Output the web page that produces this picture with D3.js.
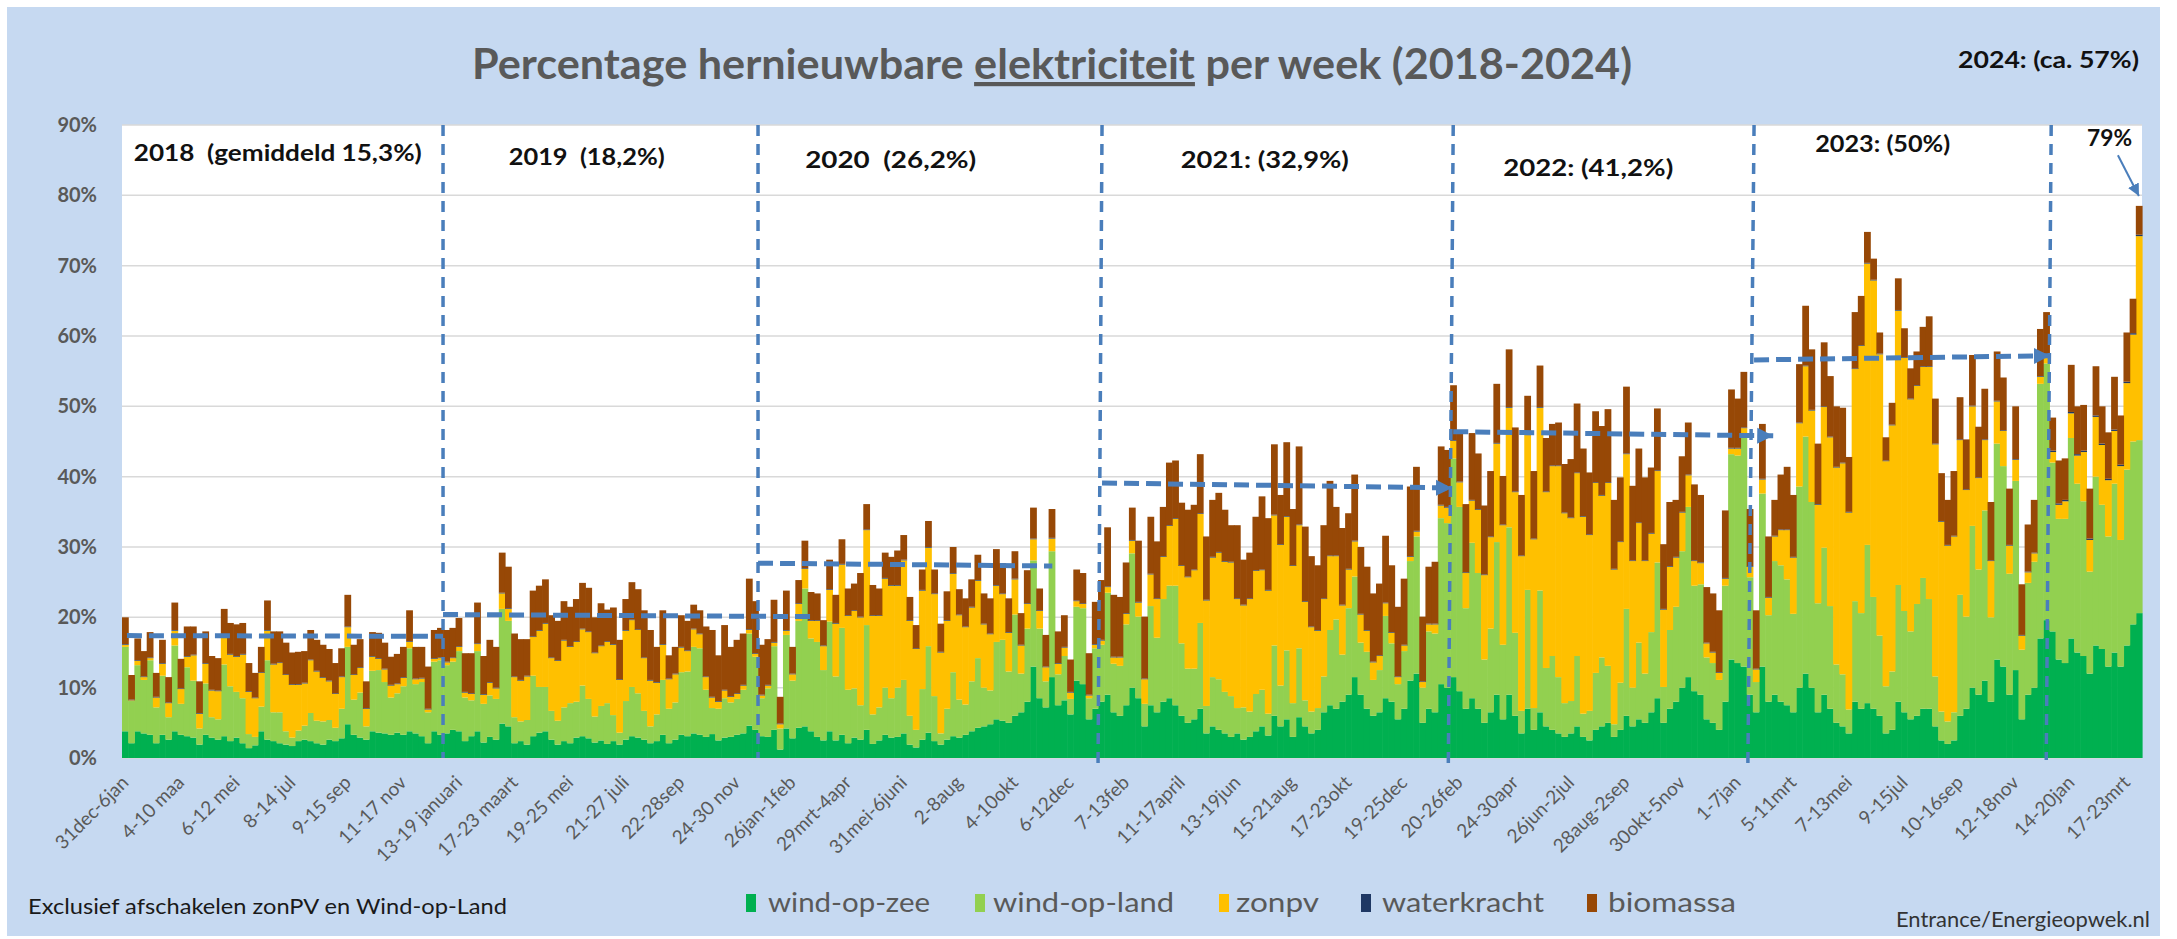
<!DOCTYPE html>
<html><head><meta charset="utf-8">
<script src="https://cdn.jsdelivr.net/npm/d3@7"></script>
<style>
html,body{margin:0;padding:0;background:#fff;}
svg{display:block;}
text{font-family:Lato,"Open Sans","Liberation Sans",sans-serif;}
</style></head><body>
<svg id="chart" width="2177" height="939"></svg>
<script>
// ---------------- DATA (percent of electricity per week) ----------------
// weeks run from 31dec2017-6jan2018 up to the end of March 2024
const windOpZee = [
// 2018
3.8,2.1,3.8,3.5,3.3,2.1,3.3,2.6,3.8,3.3,3.1,2.9,1.9,3.3,2.9,2.6,3.1,2.4,2.9,2.1,1.4,1.8,3.8,2.6,2.4,2.1,1.9,1.7,2.4,2.6,2.4,2.1,1.9,2.6,2.4,2.8,4.8,3.3,2.9,2.6,3.8,3.6,3.5,3.3,3.6,3.3,3.8,3.5,3.1,2.1,3.8,3.3,
// 2019
3.5,4.0,3.8,2.4,3.1,3.8,2.2,3.0,2.6,4.9,4.5,2.1,2.4,1.9,3.1,3.6,3.8,2.6,1.9,2.4,2.1,2.9,3.1,2.8,2.2,2.5,2.0,2.4,1.9,2.6,3.1,2.9,2.6,2.1,2.4,3.3,2.1,2.6,3.3,3.1,3.5,3.3,3.0,3.4,2.5,2.9,3.0,3.3,3.5,4.6,4.0,3.1,
// 2020
3.0,4.0,1.2,4.2,2.8,4.3,4.5,3.8,3.0,2.5,3.8,2.5,3.3,2.1,2.9,2.6,4.0,2.0,2.5,3.3,2.9,3.0,3.5,1.9,1.5,2.6,3.6,2.4,1.9,2.6,3.1,2.9,3.3,3.8,4.3,4.5,4.8,5.5,5.3,5.0,6.0,6.5,8.0,13.0,8.5,7.2,11.5,7.5,8.2,6.2,11.0,10.5,5.5,
// 2021
7.0,8.0,9.0,6.5,6.0,7.5,10.0,8.5,4.5,7.5,6.5,8.0,8.5,7.5,6.0,5.0,5.5,7.0,3.5,4.5,4.0,3.5,3.0,3.5,2.6,3.0,3.8,4.5,3.2,6.0,4.5,5.5,3.0,5.8,4.5,3.5,4.0,6.5,7.5,7.0,8.0,9.0,11.5,9.0,7.0,6.0,6.5,8.5,8.0,5.5,7.0,11.0,
// 2022
12.0,5.0,7.0,6.5,10.5,10.0,11.5,9.5,7.0,8.5,7.0,5.0,6.5,9.0,5.5,9.0,6.0,3.5,7.0,4.0,6.5,4.5,4.0,3.5,3.0,3.5,4.5,3.0,2.5,4.0,4.5,5.0,3.0,4.0,6.0,4.5,5.5,5.0,6.5,8.5,5.0,7.0,8.0,10.0,11.5,9.5,9.0,5.5,5.0,4.0,8.0,14.0,
// 2023
13.5,13.0,9.0,6.5,13.0,8.0,9.0,8.0,7.5,6.5,10.0,12.0,10.0,6.5,9.0,7.0,5.0,4.5,3.5,8.0,7.0,7.8,7.0,6.0,3.5,4.0,8.0,6.5,5.5,6.0,7.0,7.0,4.5,2.5,2.0,2.5,6.0,7.0,10.0,9.0,11.0,8.0,14.0,13.0,9.0,12.5,5.5,9.0,10.0,17.0,19.6,
// 2024
18.0,14.0,13.5,17.0,15.0,14.5,12.0,16.0,15.5,13.0,15.0,13.0,16.0,19.0,20.6
];
const windOpLand = [
12.0,6.0,9.4,7.6,10.6,5.1,8.4,3.2,12.2,4.4,9.8,8.1,2.3,7.3,2.9,2.9,10.2,7.8,6.5,6.4,2.0,1.2,3.5,11.3,4.1,4.4,1.9,1.2,1.5,2.0,4.0,3.2,3.3,2.8,1.9,4.2,11.0,5.0,6.4,1.9,8.6,8.9,7.3,5.3,5.6,6.9,11.8,7.0,7.7,4.4,9.9,10.6,
9.7,9.7,11.4,6.2,5.1,11.4,5.5,5.9,5.8,16.3,15.0,3.7,2.8,3.5,8.6,6.5,6.3,4.1,3.4,4.8,5.7,5.1,7.2,5.6,3.7,4.9,5.8,3.7,1.7,5.5,7.0,6.3,4.1,2.4,3.8,7.8,4.9,5.3,8.9,9.2,12.3,12.3,6.7,3.7,4.5,5.6,4.9,5.1,6.2,13.1,10.4,5.4,
6.9,11.9,3.0,13.3,8.2,15.2,19.6,13.2,13.5,10.0,15.6,9.1,15.2,7.6,7.0,4.9,14.9,4.2,4.7,6.7,5.6,7.0,7.6,4.1,2.5,7.2,12.3,6.4,1.6,4.4,9.1,5.4,4.3,7.1,9.9,5.5,4.8,11.0,11.5,7.3,14.4,5.5,10.4,15.1,9.9,3.7,17.9,4.4,6.3,2.2,10.5,10.8,3.0,
8.6,8.1,14.5,6.9,7.1,11.5,19.1,11.6,3.2,14.1,10.6,14.6,16.0,17.0,10.3,7.7,7.2,12.2,3.9,7.0,7.2,5.9,5.8,3.6,4.6,3.6,5.3,5.2,3.1,10.0,5.8,9.8,4.8,9.8,3.7,3.1,3.1,5.1,10.7,12.7,6.7,12.3,14.3,7.4,8.1,5.1,6.0,11.7,8.3,5.0,8.2,17.0,
19.5,5.0,11.0,11.2,23.6,23.4,31.1,26.2,14.3,22.1,19.3,9.0,11.9,21.7,10.6,23.8,11.8,3.2,16.9,3.1,17.3,8.3,10.5,8.0,4.8,4.6,10.0,3.3,4.2,8.1,9.8,8.1,1.8,6.7,15.2,5.5,10.9,7.0,11.4,19.3,5.1,11.2,13.5,19.4,24.2,15.0,15.7,8.8,8.5,7.1,16.5,29.2,
29.5,32.7,16.7,4.3,24.6,12.3,19.0,19.4,17.9,14.0,28.6,33.7,26.4,15.5,20.9,14.6,8.3,7.4,3.4,14.3,13.6,22.5,15.9,11.4,6.7,8.3,16.6,14.4,12.5,15.9,18.6,15.6,7.1,4.1,3.2,4.0,17.2,13.1,23.0,17.8,24.2,12.0,30.7,28.5,17.2,26.9,9.9,15.9,17.9,36.2,36.5,
24.0,20.0,20.5,28.5,24.0,22.0,14.5,24.0,20.5,18.5,24.0,18.0,25.0,26.0,24.6
];
const zonPV = [
0.3,0.1,0.6,0.4,0.3,1.4,1.7,2.0,2.1,2.1,1.5,3.6,2.1,2.8,3.8,4.0,3.9,4.5,5.0,6.2,6.0,5.5,4.8,4.2,6.8,7.0,8.0,7.5,6.5,6.0,7.5,7.0,6.2,5.5,4.8,4.5,2.8,3.5,3.5,2.5,2.0,1.6,1.8,1.7,1.3,1.2,0.9,0.7,0.5,0.4,0.4,0.3,
0.4,0.5,0.6,0.7,0.9,1.0,1.3,1.8,1.5,2.2,1.7,5.7,5.8,6.2,5.5,8.0,9.0,7.5,8.5,9.5,8.0,8.5,8.0,9.5,9.0,8.5,8.7,10.0,7.5,10.0,9.5,9.0,7.5,6.5,4.5,5.0,4.2,4.0,3.5,2.9,2.5,2.0,1.8,1.5,1.0,1.1,0.8,0.7,0.6,0.5,0.4,0.4,
0.4,0.5,0.6,0.6,0.9,2.4,2.8,2.5,3.0,3.4,4.5,7.5,9.0,10.5,11.0,12.5,13.5,14.0,13.0,15.5,16.0,14.5,17.0,13.5,11.5,14.0,14.0,14.5,11.5,12.5,14.0,12.0,11.0,10.5,11.0,9.0,8.0,8.0,6.5,5.5,5.0,4.0,3.5,3.0,2.5,2.0,1.8,1.5,1.2,0.9,0.8,0.6,0.4,
0.5,0.6,0.8,0.9,1.2,1.5,1.8,2.0,3.5,4.5,5.5,6.0,8.5,9.5,11.0,13.0,14.0,15.5,15.0,17.0,18.0,18.5,19.0,15.5,14.5,16.0,17.5,17.0,17.5,18.5,20.0,19.0,19.5,17.5,14.0,12.0,11.0,11.0,10.5,9.0,7.0,5.5,5.0,4.0,3.0,2.5,2.0,1.8,1.5,1.0,0.8,0.6,
0.7,0.8,1.0,1.3,1.8,2.2,2.5,3.5,5.0,6.0,9.0,12.0,13.0,14.0,17.0,17.0,20.0,22.0,22.0,24.0,26.0,25.0,27.0,30.0,27.0,26.0,26.0,28.0,25.0,27.0,23.0,26.0,22.0,20.0,22.0,18.0,17.0,16.0,14.0,13.0,11.0,9.0,7.0,5.5,4.5,3.5,3.0,2.0,1.5,1.0,1.0,0.8,
1.0,1.2,1.5,1.8,2.0,2.5,3.5,5.0,7.0,8.0,9.0,10.0,13.0,14.0,20.0,24.0,28.0,30.0,28.0,33.0,38.0,40.0,45.0,40.0,32.0,35.0,39.0,36.0,33.0,31.0,30.0,33.0,33.0,27.0,25.0,25.0,22.0,18.0,17.0,13.0,10.0,8.0,6.0,5.0,4.0,3.0,2.0,1.5,1.2,1.0,0.8,
1.5,2.0,2.5,3.5,4.0,7.0,4.5,8.5,8.5,8.0,7.5,10.5,12.3,15.2,29.0
];
const waterkracht = [
0.1,0.1,0.1,0.1,0.1,0.1,0.1,0.1,0.1,0.1,0.1,0.1,0.1,0.1,0.1,0.1,0.1,0.1,0.1,0.1,0.1,0.1,0.1,0.1,0.1,0.1,0.1,0.1,0.1,0.1,0.1,0.1,0.1,0.1,0.1,0.1,0.1,0.1,0.1,0.1,0.1,0.1,0.1,0.1,0.1,0.1,0.1,0.1,0.1,0.1,0.1,0.1,
0.1,0.1,0.1,0.1,0.1,0.1,0.1,0.1,0.1,0.1,0.1,0.1,0.1,0.1,0.1,0.1,0.1,0.1,0.1,0.1,0.1,0.1,0.1,0.1,0.1,0.1,0.1,0.1,0.1,0.1,0.1,0.1,0.1,0.1,0.1,0.1,0.1,0.1,0.1,0.1,0.1,0.1,0.1,0.1,0.1,0.1,0.1,0.1,0.1,0.1,0.1,0.1,
0.1,0.1,0.1,0.1,0.1,0.1,0.1,0.1,0.1,0.1,0.1,0.1,0.1,0.1,0.1,0.1,0.1,0.1,0.1,0.1,0.1,0.1,0.1,0.1,0.1,0.1,0.1,0.1,0.1,0.1,0.1,0.1,0.1,0.1,0.1,0.1,0.1,0.1,0.1,0.1,0.1,0.1,0.1,0.1,0.1,0.1,0.1,0.1,0.1,0.1,0.1,0.1,0.1,
0.1,0.1,0.1,0.1,0.1,0.1,0.1,0.1,0.1,0.1,0.1,0.1,0.1,0.1,0.1,0.1,0.1,0.1,0.1,0.1,0.1,0.1,0.1,0.1,0.1,0.1,0.1,0.1,0.1,0.1,0.1,0.1,0.1,0.1,0.1,0.1,0.1,0.1,0.1,0.1,0.1,0.1,0.1,0.1,0.1,0.1,0.1,0.1,0.1,0.1,0.1,0.1,
0.1,0.1,0.1,0.1,0.1,0.1,0.1,0.1,0.1,0.1,0.1,0.1,0.1,0.1,0.1,0.1,0.1,0.1,0.1,0.1,0.1,0.1,0.1,0.1,0.1,0.1,0.1,0.1,0.1,0.1,0.1,0.1,0.1,0.1,0.1,0.1,0.1,0.1,0.1,0.1,0.1,0.1,0.1,0.1,0.1,0.1,0.1,0.1,0.1,0.1,0.1,0.1,
0.1,0.1,0.1,0.1,0.1,0.1,0.1,0.1,0.1,0.1,0.1,0.1,0.1,0.1,0.1,0.1,0.1,0.1,0.1,0.1,0.1,0.1,0.1,0.1,0.1,0.1,0.1,0.1,0.1,0.1,0.1,0.1,0.1,0.1,0.1,0.1,0.1,0.1,0.1,0.1,0.1,0.1,0.1,0.1,0.1,0.1,0.1,0.1,0.1,0.1,0.1,
0.2,0.2,0.2,0.2,0.2,0.2,0.2,0.2,0.2,0.2,0.2,0.2,0.2,0.2,0.2
];
const biomassa = [
3.8,3.5,3.1,3.6,3.6,3.4,3.3,3.6,3.9,4.2,4.2,4.0,4.5,4.5,4.8,4.6,3.9,4.4,4.5,4.4,4.0,3.5,3.6,4.2,4.6,4.4,4.5,4.5,4.6,4.5,4.2,4.4,4.6,4.5,4.3,4.0,4.5,4.2,4.0,3.8,3.4,3.6,3.7,4.0,4.2,4.3,4.4,4.5,4.4,6.0,4.0,4.2,
4.5,4.2,4.0,5.5,5.7,5.8,5.4,6.0,5.8,5.7,5.9,6.1,5.8,5.2,6.5,6.3,6.2,6.0,5.6,5.5,5.6,6.0,6.5,6.2,5.0,6.0,4.5,5.2,5.6,4.4,5.3,5.7,6.7,7.1,5.0,4.8,3.3,3.8,4.5,4.2,3.4,3.3,7.1,9.5,6.5,9.2,7.0,7.6,7.3,7.2,7.4,7.1,
6.5,6.0,3.8,5.6,3.8,3.3,3.9,4.0,3.8,3.6,4.2,4.0,3.5,3.8,3.8,6.2,3.6,4.3,3.8,3.6,4.0,4.9,3.5,3.3,3.3,2.9,3.7,3.4,4.0,4.1,3.7,3.6,4.0,3.9,3.6,4.3,5.0,5.1,4.3,4.8,3.9,4.5,4.7,4.4,3.1,4.5,4.1,4.5,4.5,4.6,4.4,4.3,5.9,
6.0,8.5,8.4,8.8,8.5,7.2,4.6,8.7,8.8,8.1,8.1,7.0,8.9,8.2,8.9,9.5,9.2,8.4,9.0,8.1,8.4,7.3,5.2,10.4,6.4,6.5,7.6,10.4,10.2,10.0,7.0,10.5,8.0,11.1,10.6,10.0,9.2,10.4,10.6,6.9,10.9,7.9,9.4,9.5,9.0,9.7,10.2,9.5,9.5,9.9,9.4,9.9,
9.1,9.2,8.1,8.8,8.3,8.1,7.8,6.9,9.7,9.5,7.9,9.8,9.3,8.4,6.9,8.2,9.1,8.6,5.5,9.6,5.9,7.6,5.9,6.1,6.9,8.3,9.8,9.6,8.8,10.1,9.8,10.4,9.8,9.1,9.5,10.6,10.5,11.8,9.3,8.8,9.2,9.1,8.1,7.9,7.4,10.8,9.6,7.9,8.3,8.8,9.6,8.3,
7.0,7.9,8.1,8.3,7.8,8.6,5.1,7.8,8.9,8.8,8.3,8.5,8.6,8.6,9.1,8.6,8.6,7.8,7.8,8.0,7.0,4.4,3.0,3.0,3.3,3.1,4.5,4.1,4.3,4.8,5.6,7.1,6.4,6.8,6.4,9.2,6.0,7.1,7.2,7.2,7.2,8.3,7.0,7.5,8.0,7.5,7.2,6.7,7.5,6.7,6.4,
4.7,6.1,5.9,6.7,6.8,6.5,7.1,7.0,5.3,6.6,7.5,7.0,7.0,4.9,4.1
];
// x-axis labels, one every 9 weeks (starting with week 0)
const tickLabels = ["31dec-6jan","4-10 maa","6-12 mei","8-14 jul","9-15 sep","11-17 nov","13-19 januari","17-23 maart","19-25 mei","21-27 juli","22-28sep","24-30 nov","26jan-1feb","29mrt-4apr","31mei-6juni","2-8aug","4-10okt","6-12dec","7-13feb","11-17april","13-19jun","15-21aug","17-23okt","19-25dec","20-26feb","24-30apr","26jun-2jul","28aug-2sep","30okt-5nov","1-7jan","5-11mrt","7-13mei","9-15jul","10-16sep","12-18nov","14-20jan","17-23mrt"];
const tickEvery = 9;
const yTicks = [0,10,20,30,40,50,60,70,80,90];
const seriesNames = ["wind-op-zee","wind-op-land","zonpv","waterkracht","biomassa"];
const seriesColors = ["#00B050","#92D050","#FFC000","#1F3864","#974806"];
// annotations (week index, percent)
const yearNotes = [
  {text:"2018  (gemiddeld 15,3%)", w:1.9,  v:84.9, len:288},
  {text:"2019  (18,2%)",           w:62.6, v:84.3, len:156},
  {text:"2020  (26,2%)",           w:110.6,v:83.9, len:171},
  {text:"2021: (32,9%)",           w:171.4,v:83.9, len:168},
  {text:"2022: (41,2%)",           w:223.6,v:82.7, len:170},
  {text:"2023: (50%)",             w:274.1,v:86.1, len:135},
  {text:"79%",                     w:318.1,v:87.0, len:45}
];
const yearLines = [ // week index at top and bottom, bottom value
  {wt:51.97, wb:51.97, vb:0}, {wt:102.96, wb:102.96, vb:0}, {wt:158.65, wb:158.0, vb:-1.4},
  {wt:215.5, wb:214.7, vb:-1.4}, {wt:264.2, wb:263.2, vb:-0.7}, {wt:312.3, wb:311.5, vb:-0.3}
];
const avgLines = [
  {w0:0.8,   v0:17.4, w1:51.97, v1:17.3, arrow:false},
  {w0:51.97, v0:20.4, w1:111.7, v1:20.1, arrow:false},
  {w0:102.96,v0:27.7, w1:150.6, v1:27.3, arrow:false},
  {w0:158.65,v0:39.1, w1:215.3, v1:38.4, arrow:true},
  {w0:215.5, v0:46.4, w1:267.3, v1:45.8, arrow:true},
  {w0:264.2, v0:56.6, w1:312.1, v1:57.2, arrow:true}
];
const peakArrow = {w0:323.1, v0:85.7, w1:326.5, v1:79.9};

// ---------------- LAYOUT ----------------
const W = 2177, H = 939;
const plot = {l:122, r:2142, t:125, b:758};
const gray = "#595959", blue = "#4A7EBB";
const svg = d3.select("#chart");

svg.append("rect").attr("x",0).attr("y",0).attr("width",W).attr("height",H).attr("fill","#fff");
svg.append("rect").attr("x",7).attr("y",7).attr("width",2153).attr("height",929).attr("fill","#C6D9F1");
svg.append("rect").attr("x",plot.l).attr("y",plot.t).attr("width",plot.r-plot.l).attr("height",plot.b-plot.t).attr("fill","#fff");

const N = windOpZee.length;
const rows = d3.range(N).map(i => ({i, zee:windOpZee[i], land:windOpLand[i], pv:zonPV[i], hydro:waterkracht[i], bio:biomassa[i]}));
const keys = ["zee","land","pv","hydro","bio"];
const stacked = d3.stack().keys(keys)(rows);

const x = d3.scaleBand().domain(d3.range(N)).range([plot.l, plot.r]).padding(0);
const xw = d3.scaleLinear().domain([0, N]).range([plot.l, plot.r]); // continuous week position for annotations
const y = d3.scaleLinear().domain([0, 90]).range([plot.b, plot.t]);

// gridlines
svg.append("g").selectAll("line").data(yTicks).join("line")
  .attr("x1", plot.l).attr("x2", plot.r).attr("y1", d=>y(d)).attr("y2", d=>y(d))
  .attr("stroke", "#D9D9D9").attr("stroke-width", 1.5);

// bars
const gBars = svg.append("g");
stacked.forEach((layer, k) => {
  gBars.append("g").attr("fill", seriesColors[k]).selectAll("rect").data(layer).join("rect")
    .attr("x", (d,i) => x(i))
    .attr("width", x.bandwidth() + 0.6)
    .attr("y", d => y(d[1]))
    .attr("height", d => Math.max(0, y(d[0]) - y(d[1])));
});

// y axis
const yAxis = svg.append("g").attr("transform", `translate(${plot.l},0)`)
  .call(d3.axisLeft(y).tickValues(yTicks).tickFormat(d => d + "%").tickSize(0).tickPadding(25));
yAxis.select(".domain").remove();
yAxis.selectAll("text").attr("font-size", 20).attr("font-weight", "bold").attr("fill", gray)
  .style("font-family", "Lato, 'Open Sans', sans-serif");

// x labels
const tickIdx = tickLabels.map((_, k) => k * tickEvery);
svg.append("g").selectAll("text").data(tickIdx).join("text")
  .attr("transform", i => `translate(${x(i) + x.bandwidth()/2},779) rotate(-45)`)
  .attr("text-anchor", "end").attr("dy", "0.35em")
  .attr("font-size", 19).attr("fill", gray)
  .text((i, k) => tickLabels[k]);

// markers
const defs = svg.append("defs");
defs.append("marker").attr("id","arrowBig").attr("markerUnits","userSpaceOnUse")
  .attr("markerWidth",18).attr("markerHeight",18).attr("refX",16).attr("refY",9).attr("orient","auto")
  .append("path").attr("d","M0,1 L16,9 L0,17 Z").attr("fill",blue);
defs.append("marker").attr("id","arrowSmall").attr("markerUnits","userSpaceOnUse")
  .attr("markerWidth",14).attr("markerHeight",14).attr("refX",12).attr("refY",7).attr("orient","auto")
  .append("path").attr("d","M0,1 L12,7 L0,13 Z").attr("fill",blue);

// vertical dashed year lines
svg.append("g").selectAll("line").data(yearLines).join("line")
  .attr("x1", d => xw(d.wt)).attr("y1", y(90))
  .attr("x2", d => xw(d.wb)).attr("y2", d => y(d.vb))
  .attr("stroke", blue).attr("stroke-width", 3.5).attr("stroke-dasharray", "11 8");

// horizontal dashed average lines
svg.append("g").selectAll("line").data(avgLines).join("line")
  .attr("x1", d => xw(d.w0)).attr("y1", d => y(d.v0))
  .attr("x2", d => xw(d.w1)).attr("y2", d => y(d.v1))
  .attr("stroke", blue).attr("stroke-width", 5).attr("stroke-dasharray", "15 7")
  .attr("marker-end", d => d.arrow ? "url(#arrowBig)" : null);

// arrow to last week
svg.append("line")
  .attr("x1", xw(peakArrow.w0)).attr("y1", y(peakArrow.v0))
  .attr("x2", xw(peakArrow.w1)).attr("y2", y(peakArrow.v1))
  .attr("stroke", blue).attr("stroke-width", 2).attr("marker-end", "url(#arrowSmall)");

// year notes
svg.append("g").selectAll("text").data(yearNotes).join("text")
  .attr("x", d => xw(d.w)).attr("y", d => y(d.v))
  .attr("font-size", 23).attr("font-weight", "bold").attr("fill", "#111")
  .style("white-space", "pre")
  .attr("textLength", d => d.len).attr("lengthAdjust", "spacingAndGlyphs")
  .text(d => d.text);

// title
const title = svg.append("text").attr("x", 1052).attr("y", 79).attr("text-anchor", "middle")
  .attr("font-size", 42).attr("font-weight", "bold").attr("fill", gray)
  .style("white-space", "pre")
  .attr("textLength", 1160).attr("lengthAdjust", "spacingAndGlyphs");
title.append("tspan").text("Percentage hernieuwbare ");
title.append("tspan").attr("text-decoration", "underline").style("text-decoration", "underline").text("elektriciteit");
title.append("tspan").text(" per week (2018-2024)");

svg.append("text").attr("x", 1958).attr("y", 68).attr("font-size", 22).attr("font-weight", "bold").attr("fill", "#111")
  .attr("textLength", 181).attr("lengthAdjust", "spacingAndGlyphs").text("2024: (ca. 57%)");

// footer texts
svg.append("text").attr("x", 28).attr("y", 914).attr("font-size", 22).attr("fill", "#1a1a1a")
  .attr("textLength", 479).attr("lengthAdjust", "spacingAndGlyphs").text("Exclusief afschakelen zonPV en Wind-op-Land");
svg.append("text").attr("x", 1896).attr("y", 927).attr("font-size", 21).attr("fill", "#333")
  .attr("textLength", 254).attr("lengthAdjust", "spacingAndGlyphs").text("Entrance/Energieopwek.nl");

// legend
const legendItems = [
  {mx:746, tx:768, tw:162}, {mx:975, tx:993, tw:181}, {mx:1219, tx:1236, tw:83},
  {mx:1361, tx:1382, tw:162}, {mx:1587, tx:1608, tw:128}
];
const gLeg = svg.append("g");
legendItems.forEach((it, k) => {
  gLeg.append("rect").attr("x", it.mx).attr("y", 894).attr("width", 10).attr("height", 18).attr("fill", seriesColors[k]);
  gLeg.append("text").attr("x", it.tx).attr("y", 912).attr("font-size", 26).attr("fill", gray)
    .attr("textLength", it.tw).attr("lengthAdjust", "spacingAndGlyphs").text(seriesNames[k]);
});
</script>
</body></html>
